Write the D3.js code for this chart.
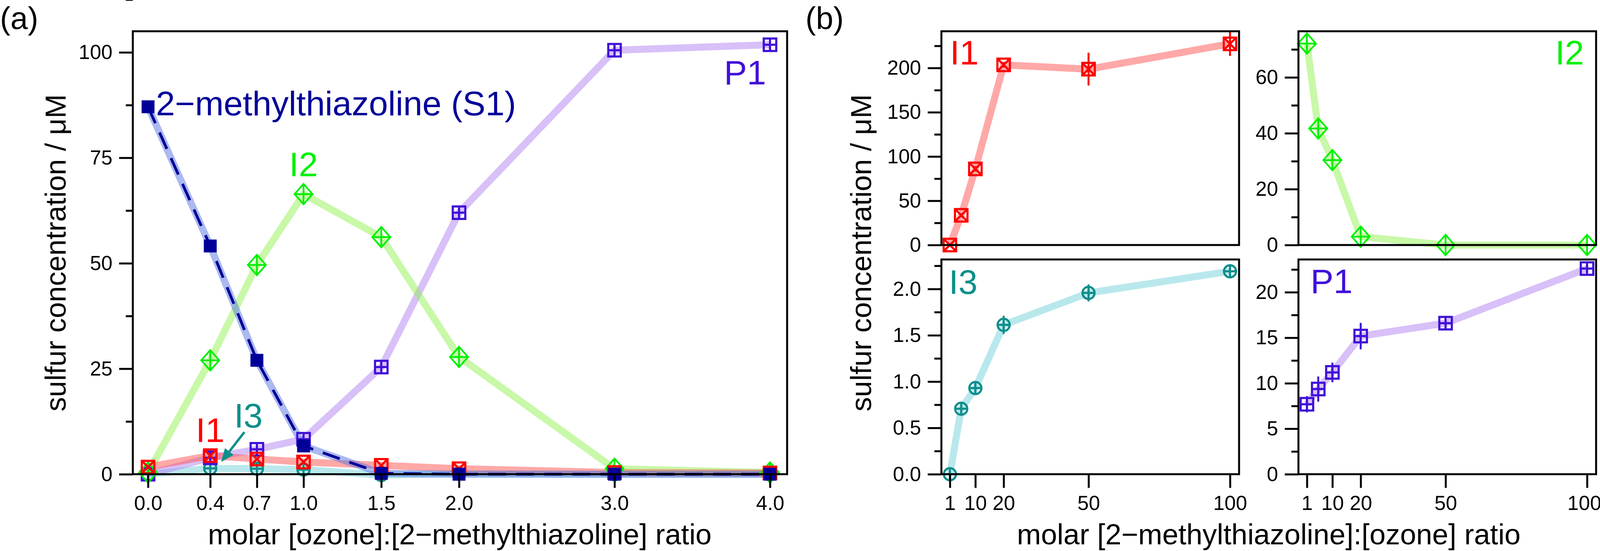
<!DOCTYPE html>
<html>
<head>
<meta charset="utf-8">
<script src="https://cdn.jsdelivr.net/npm/d3@7"></script>
<style>
  html, body { margin: 0; padding: 0; background: #fff; overflow: hidden; }
  svg { display: block; }
  text { font-family: "Liberation Sans", Arial, sans-serif; }
</style>
</head>
<body>
<div id="chart"></div>
<script>
// ---- panel (a): molar [ozone]:[2-methylthiazoline] ratio ----
var ratioA = [0.0, 0.4, 0.7, 1.0, 1.5, 2.0, 3.0, 4.0];
var ratioALabels = ["0.0", "0.4", "0.7", "1.0", "1.5", "2.0", "3.0", "4.0"];
var s1A = [87.1, 54.1, 27.0, 6.7, 0.2, 0.0, 0.0, 0.0];
var i1A = [1.7, 4.4, 3.6, 2.9, 2.1, 1.3, 0.4, 0.3];
var i2A = [0.4, 27.0, 49.6, 66.4, 56.2, 27.8, 1.3, 0.4];
var i3A = [0.0, 1.4, 1.3, 1.1, -0.2, 0.1, 0.0, 0.0];
var p1A = [0.0, 3.9, 5.9, 8.3, 25.4, 62.0, 100.5, 101.8];
var yTicksA = [0, 25, 50, 75, 100];

// ---- panel (b): molar [2-methylthiazoline]:[ozone] ratio ----
var ratioB = [1, 5, 10, 20, 50, 100];
var ratioBTicks = [1, 10, 20, 50, 100];
var i1B = [0.0, 33.6, 86.0, 203.5, 198.7, 227.3];
var i1BErr = [1.0, 2.0, 3.0, 3.0, 18.5, 13.7];
var i2B = [72.1, 41.7, 30.4, 3.0, 0.0, 0.0];
var i2BErr = [1.5, 1.0, 1.0, 0.5, 0.2, 0.2];
var i3B = [0.0, 0.707, 0.93, 1.612, 1.957, 2.19];
var i3BErr = [0.01, 0.03, 0.05, 0.099, 0.092, 0.06];
var p1B = [7.69, 9.36, 11.19, 15.18, 16.6, 22.6];
var p1BErr = [0.89, 1.38, 1.08, 1.45, 0.3, 0.4];

var yTicksI1 = [0, 50, 100, 150, 200];
var yTicksI2 = [0, 20, 40, 60];
var yTicksI3 = [0.0, 0.5, 1.0, 1.5, 2.0];
var yTicksP1 = [0, 5, 10, 15, 20];

// colours: marker colour + light band colour
var sty = {
  s1: { color: "#000099", band: "rgba(85,115,225,0.5)",  marker: "filled" },
  i1: { color: "#ff0000", band: "rgba(255,81,81,0.5)",   marker: "squareX" },
  i2: { color: "#00f000", band: "rgba(145,241,81,0.5)",  marker: "diamondPlus" },
  i3: { color: "#0e8f8b", band: "rgba(115,209,217,0.5)", marker: "circlePlus" },
  p1: { color: "#4010d8", band: "rgba(177,129,241,0.5)", marker: "squarePlus" }
};

var W = 4110, H = 1410;
var svg = d3.select("#chart").append("svg")
    .attr("width", W)
    .attr("height", H)
    .style("background", "#fff");

function minorTicks(major, step) {
  var out = [];
  major.forEach(function (v) { out.push(v + step); });
  return out;
}

function makePanel(box, xDom, yDom) {
  var p = {
    box: box,
    x: d3.scaleLinear().domain(xDom).range([box.x0, box.x1]),
    y: d3.scaleLinear().domain(yDom).range([box.y1, box.y0]),
    g: svg.append("g")
  };
  return p;
}

function markerPath(type) {
  var p = d3.path();
  if (type === "squareX") {
    p.rect(-16, -16, 32, 32);
    p.moveTo(-16, -16); p.lineTo(16, 16);
    p.moveTo(-16, 16); p.lineTo(16, -16);
  } else if (type === "squarePlus") {
    p.rect(-16, -16, 32, 32);
    p.moveTo(0, -16); p.lineTo(0, 16);
    p.moveTo(-16, 0); p.lineTo(16, 0);
  } else if (type === "diamondPlus") {
    p.moveTo(0, -26); p.lineTo(23, 0); p.lineTo(0, 26); p.lineTo(-23, 0); p.closePath();
    p.moveTo(0, -26); p.lineTo(0, 26);
    p.moveTo(-23, 0); p.lineTo(23, 0);
  } else if (type === "circlePlus") {
    p.moveTo(15.5, 0); p.arc(0, 0, 15.5, 0, 2 * Math.PI);
    p.moveTo(0, -15.5); p.lineTo(0, 15.5);
    p.moveTo(-15.5, 0); p.lineTo(15.5, 0);
  }
  return p.toString();
}

function drawBand(pn, xs, ys, st) {
  var line = d3.line()
      .x(function (d, i) { return pn.x(xs[i]); })
      .y(function (d) { return pn.y(d); });
  pn.g.append("path")
      .datum(ys)
      .attr("d", line)
      .attr("fill", "none")
      .attr("stroke", st.band)
      .attr("stroke-width", 18)
      .attr("stroke-linejoin", "round");
  return line;
}

function drawMarkers(pn, xs, ys, errs, st) {
  var g = pn.g.append("g");
  if (errs) {
    g.selectAll("line.err").data(ys).enter().append("line")
        .attr("class", "err")
        .attr("x1", function (d, i) { return pn.x(xs[i]); })
        .attr("x2", function (d, i) { return pn.x(xs[i]); })
        .attr("y1", function (d, i) { return pn.y(d - errs[i]); })
        .attr("y2", function (d, i) { return pn.y(d + errs[i]); })
        .attr("stroke", st.color)
        .attr("stroke-width", 5);
  }
  if (st.marker === "filled") {
    g.selectAll("rect").data(ys).enter().append("rect")
        .attr("x", function (d, i) { return pn.x(xs[i]) - 16.5; })
        .attr("y", function (d) { return pn.y(d) - 16.5; })
        .attr("width", 33)
        .attr("height", 33)
        .attr("fill", st.color);
  } else {
    g.selectAll("path").data(ys).enter().append("path")
        .attr("transform", function (d, i) {
          return "translate(" + pn.x(xs[i]) + "," + pn.y(d) + ")";
        })
        .attr("d", markerPath(st.marker))
        .attr("fill", "none")
        .attr("stroke", st.color)
        .attr("stroke-width", st.marker === "diamondPlus" ? 4.5 : 5.5);
  }
}

function finishPanel(pn, yMajor, yMinor, yFmt, xTicks, xFmt) {
  var b = pn.box;
  var ax = pn.g.append("g").attr("transform", "translate(" + b.x0 + ",0)");
  ax.call(d3.axisLeft(pn.y).tickValues(yMajor).tickSize(35).tickPadding(17).tickFormat(yFmt));
  var mx = pn.g.append("g").attr("transform", "translate(" + b.x0 + ",0)");
  mx.call(d3.axisLeft(pn.y).tickValues(yMinor).tickSize(18).tickFormat(""));
  var axes = [ax, mx];
  if (xTicks) {
    var bx = pn.g.append("g").attr("transform", "translate(0," + b.y1 + ")");
    bx.call(d3.axisBottom(pn.x).tickValues(xTicks).tickSize(35).tickPadding(20).tickFormat(xFmt));
    axes.push(bx);
  }
  axes.forEach(function (a) {
    a.select(".domain").remove();
    a.selectAll(".tick line").attr("stroke", "#000").attr("stroke-width", 5);
    a.selectAll(".tick text")
        .attr("fill", "#000")
        .style("font-family", "'Liberation Sans', Arial, sans-serif")
        .style("font-size", "52px");
  });
  pn.g.append("rect")
      .attr("x", b.x0).attr("y", b.y0)
      .attr("width", b.x1 - b.x0).attr("height", b.y1 - b.y0)
      .attr("fill", "none")
      .attr("stroke", "#000")
      .attr("stroke-width", 5);
}

function label(g, txt, x, y, color, size, anchor) {
  return g.append("text")
      .attr("x", x).attr("y", y)
      .attr("fill", color)
      .attr("text-anchor", anchor || "start")
      .style("font-size", size + "px")
      .text(txt);
}

// ================= panel (a) =================
var pa = makePanel({ x0: 340, x1: 2015, y0: 80, y1: 1213.5 }, [-0.098, 4.11], [0, 105]);
[["i3", i3A], ["p1", p1A], ["i2", i2A], ["i1", i1A], ["s1", s1A]].forEach(function (s) {
  drawBand(pa, ratioA, s[1], sty[s[0]]);
});
drawMarkers(pa, ratioA, i3A, null, sty.i3);
drawMarkers(pa, ratioA, p1A, null, sty.p1);
drawMarkers(pa, ratioA, i2A, null, sty.i2);
drawMarkers(pa, ratioA, i1A, null, sty.i1);
// S1 dashed trace on top of its band
pa.g.append("path")
    .datum(s1A)
    .attr("d", d3.line()
        .x(function (d, i) { return pa.x(ratioA[i]); })
        .y(function (d) { return pa.y(d); }))
    .attr("fill", "none")
    .attr("stroke", sty.s1.color)
    .attr("stroke-width", 7)
    .attr("stroke-dasharray", "46,26");
drawMarkers(pa, ratioA, s1A, null, sty.s1);

// I3 arrow
var arrowFrom = [0.62, 10.0], arrowTo = [0.47, 2.9];
(function () {
  var x1 = pa.x(arrowFrom[0]), y1 = pa.y(arrowFrom[1]);
  var x2 = pa.x(arrowTo[0]), y2 = pa.y(arrowTo[1]);
  var ang = Math.atan2(y2 - y1, x2 - x1);
  var hl = 34, hw = 14;
  var bx = x2 - hl * Math.cos(ang), by = y2 - hl * Math.sin(ang);
  pa.g.append("line")
      .attr("x1", x1).attr("y1", y1).attr("x2", bx).attr("y2", by)
      .attr("stroke", sty.i3.color).attr("stroke-width", 6);
  pa.g.append("polygon")
      .attr("points", [
        [x2, y2],
        [bx + hw * Math.sin(ang), by - hw * Math.cos(ang)],
        [bx - hw * Math.sin(ang), by + hw * Math.cos(ang)]
      ].map(function (p) { return p.join(","); }).join(" "))
      .attr("fill", sty.i3.color);
})();

finishPanel(pa, yTicksA, minorTicks(yTicksA, 12.5), d3.format("d"), ratioA,
    function (d, i) { return ratioALabels[i]; });

label(pa.g, "2\u2212methylthiazoline (S1)", pa.x(0.05), pa.y(85.1), sty.s1.color, 88);
label(pa.g, "I2", pa.x(1.0), pa.y(70.6), sty.i2.color, 88, "middle");
label(pa.g, "P1", pa.x(3.975), pa.y(92.4), sty.p1.color, 88, "end");
label(pa.g, "I1", pa.x(0.307), pa.y(7.6), sty.i1.color, 88);
label(pa.g, "I3", pa.x(0.553), pa.y(11.1), sty.i3.color, 88);

label(svg, "(a)", 0, 74, "#000", 80);
label(svg, "molar [ozone]:[2\u2212methylthiazoline] ratio", 1177, 1393, "#000", 74, "middle");
label(svg, "sulfur concentration / \u03bcM", 0, 0, "#000", 74, "middle")
    .attr("transform", "translate(168,647) rotate(-90)");

// ================= panel (b) =================
var xDomB = [-2.0, 103.2];
var pI1 = makePanel({ x0: 2410, x1: 3172, y0: 80, y1: 627 }, xDomB, [0, 241.5]);
var pI2 = makePanel({ x0: 3324, x1: 4086, y0: 80, y1: 627 }, xDomB, [0, 76.5]);
var pI3 = makePanel({ x0: 2410, x1: 3172, y0: 664, y1: 1213.5 }, xDomB, [0, 2.318]);
var pP1 = makePanel({ x0: 3324, x1: 4086, y0: 664, y1: 1213.5 }, xDomB, [0, 23.6]);

[[pI1, i1B, i1BErr, sty.i1], [pI2, i2B, i2BErr, sty.i2],
 [pI3, i3B, i3BErr, sty.i3], [pP1, p1B, p1BErr, sty.p1]].forEach(function (s) {
  drawBand(s[0], ratioB, s[1], s[3]);
  drawMarkers(s[0], ratioB, s[1], s[2], s[3]);
});

finishPanel(pI1, yTicksI1, minorTicks(yTicksI1, 25), d3.format("d"), null);
finishPanel(pI2, yTicksI2, minorTicks(yTicksI2, 10), d3.format("d"), null);
finishPanel(pI3, yTicksI3, minorTicks(yTicksI3, 0.25), d3.format(".1f"), ratioBTicks, d3.format("d"));
finishPanel(pP1, yTicksP1, minorTicks(yTicksP1, 2.5), d3.format("d"), ratioBTicks, d3.format("d"));

// the last "100" sits right at the picture edge: pull it in a little
pP1.g.selectAll(".tick").filter(function (d) { return d === 100; }).select("text")
    .attr("text-anchor", "end")
    .attr("x", 36);

label(pI1.g, "I1", pI1.box.x0 + 22, pI1.box.y0 + 85, sty.i1.color, 88);
label(pI2.g, "I2", pI2.box.x1 - 31, pI2.box.y0 + 85, sty.i2.color, 88, "end");
label(pI3.g, "I3", pI3.box.x0 + 19, pI3.box.y0 + 88, sty.i3.color, 88);
label(pP1.g, "P1", pP1.box.x0 + 31, pP1.box.y0 + 86, sty.p1.color, 88);

label(svg, "(b)", 2062, 74, "#000", 80);
label(svg, "molar [2\u2212methylthiazoline]:[ozone] ratio", 3248, 1393, "#000", 74, "middle");
label(svg, "sulfur concentration / \u03bcM", 0, 0, "#000", 74, "middle")
    .attr("transform", "translate(2230,647) rotate(-90)");
</script>
</body>
</html>
